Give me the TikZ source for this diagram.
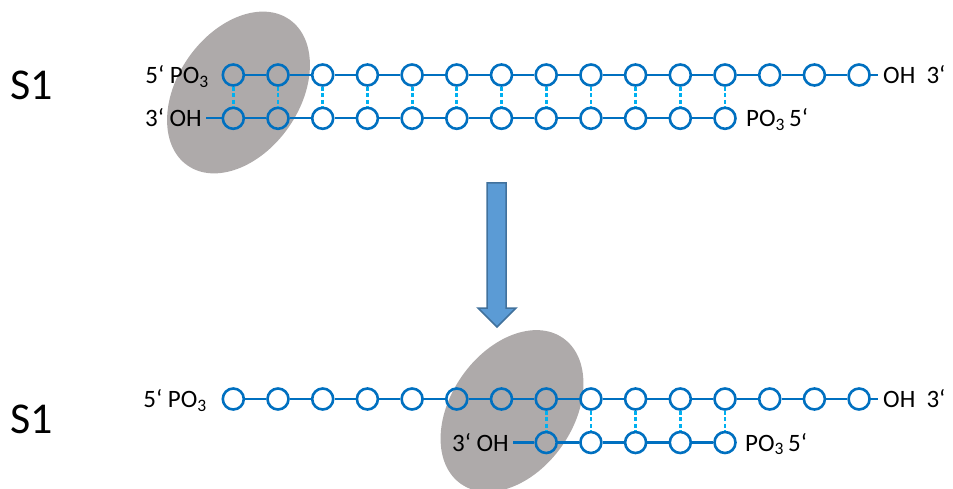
\documentclass[tikz,border=0pt]{standalone}
\usepackage{fontspec}
\setmainfont{Carlito}
\usetikzlibrary{shapes.geometric}
\definecolor{strandblue}{HTML}{0070C0}
\definecolor{linkblue}{HTML}{00B0F0}
\definecolor{blobgray}{HTML}{AEAAAA}
\definecolor{arrowfill}{HTML}{5B9BD5}
\definecolor{arrowdraw}{HTML}{41719C}
\tikzset{
  nuc/.style={circle, draw=strandblue, line width=2.6pt, minimum size=21pt, inner sep=0pt},
  strand/.style={draw=strandblue, line width=2.3pt},
  pairlink/.style={draw=linkblue, line width=2.8pt, dash pattern=on 4pt off 2.5pt},
  blob/.style={ellipse, fill=blobgray, minimum width=178pt, minimum height=122pt, inner sep=0pt, rotate=55},
  lbl/.style={inner sep=0pt, font=\fontsize{25}{28}\selectfont},
  big/.style={inner sep=0pt, font=\fontsize{44}{48}\selectfont},
  bigarrow/.style={fill=arrowfill, draw=arrowdraw, line width=1.5pt, line join=miter}
}
\begin{document}
\begin{tikzpicture}[x=1pt,y=-1pt]
\useasboundingbox (0,0) rectangle (953,489);
% protein blobs (behind)
\node[blob] (blobA) at (238.5,92.5) {};
\node[blob] (blobB) at (512,411) {};
% labels S1
\node[big, anchor=base west] (s1a) at (10,100) {S1};
\node[big, anchor=base west] (s1b) at (10,433) {S1};
% ---------- top duplex ----------
\foreach \i in {1,...,15} {
  \node[nuc] (a\i) at ({233.3+44.7*(\i-1)},75) {};
}
\foreach \i in {1,...,12} {
  \node[nuc] (b\i) at ({233.3+44.7*(\i-1)},118.3) {};
}
\foreach \i in {1,...,14} {
  \pgfmathtruncatemacro{\j}{\i+1}
  \draw[strand] (a\i) -- (a\j);
}
\foreach \i in {1,...,11} {
  \pgfmathtruncatemacro{\j}{\i+1}
  \draw[strand] (b\i) -- (b\j);
}
\foreach \i in {1,...,12} {
  \draw[pairlink] (a\i) -- (b\i);
}
\coordinate (aend) at (878,75);
\coordinate (bstart) at (206,118.3);
\draw[strand] (a15) -- (aend);
\draw[strand] (bstart) -- (b1);
\node[lbl, anchor=base east] (la1) at (209,83.5) {5‘ PO\textsubscript{3}};
\node[lbl, anchor=base east] (lb1) at (202,126.8) {3‘ OH};
\node[lbl, anchor=base west] (la2) at (883,83.5) {OH\hspace{0.45em}3‘};
\node[lbl, anchor=base west] (lb2) at (746,126.8) {PO\textsubscript{3}\,5‘};
% ---------- arrow ----------
\draw[bigarrow] (487,183) -- (506,183) -- (506,308) -- (516,308) -- (497,327) -- (478,308) -- (487,308) -- cycle;
% ---------- bottom duplex ----------
\foreach \i in {1,...,15} {
  \node[nuc] (c\i) at ({233.3+44.7*(\i-1)},399) {};
}
\foreach \i in {8,...,12} {
  \node[nuc] (d\i) at ({233.3+44.7*(\i-1)},442.5) {};
}
\foreach \i in {1,...,14} {
  \pgfmathtruncatemacro{\j}{\i+1}
  \draw[strand] (c\i) -- (c\j);
}
\foreach \i in {8,...,11} {
  \pgfmathtruncatemacro{\j}{\i+1}
  \draw[strand] (d\i) -- (d\j);
}
\foreach \i in {8,...,12} {
  \draw[pairlink] (c\i) -- (d\i);
}
\coordinate (cend) at (878,399);
\coordinate (dstart) at (513,442.5);
\draw[strand] (c15) -- (cend);
\draw[strand] (dstart) -- (d8);
\node[lbl, anchor=base east] (lc1) at (207,407.5) {5‘ PO\textsubscript{3}};
\node[lbl, anchor=base east] (ld1) at (509,451) {3‘ OH};
\node[lbl, anchor=base west] (lc2) at (883,407.5) {OH\hspace{0.45em}3‘};
\node[lbl, anchor=base west] (ld2) at (745,451) {PO\textsubscript{3}\,5‘};
\end{tikzpicture}
\end{document}
